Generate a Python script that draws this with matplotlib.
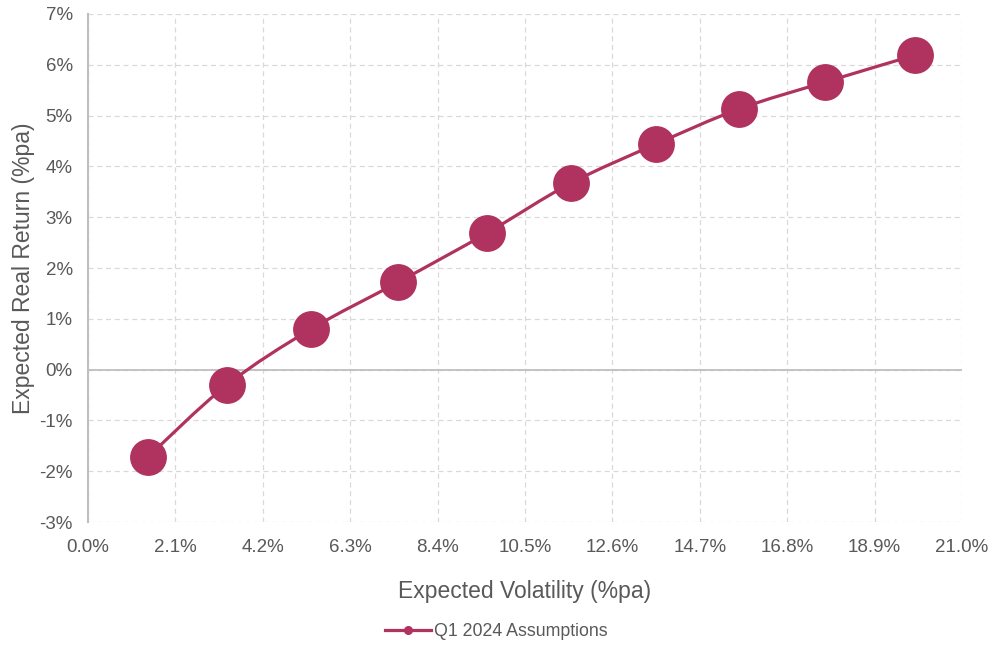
import numpy as np
import matplotlib.pyplot as plt
from matplotlib.path import Path
from matplotlib.patches import PathPatch
from matplotlib.lines import Line2D
from matplotlib.ticker import FuncFormatter

plt.rcParams['font.family'] = ['Liberation Sans', 'DejaVu Sans']

# Efficient frontier points (%pa)
volatility = [1.44, 3.34, 5.36, 7.45, 9.59, 11.60, 13.65, 15.64, 17.71, 19.87]
real_return = [-1.72, -0.30, 0.80, 1.72, 2.69, 3.67, 4.44, 5.13, 5.66, 6.19]
series_name = 'Q1 2024 Assumptions'

colour = '#B0325E'
text_col = '#595959'

fig = plt.figure(figsize=(9.93, 6.48), dpi=100)
ax = fig.add_axes([0.0886, 0.1944, 0.8802, 0.784])

ax.set_xlim(0, 21)
ax.set_ylim(-3, 7)
ax.set_xticks(np.arange(0, 21.01, 2.1))
ax.set_yticks(np.arange(-3, 7.01, 1))
ax.xaxis.set_major_formatter(FuncFormatter(lambda v, p: '{:.1f}%'.format(v)))
ax.yaxis.set_major_formatter(FuncFormatter(lambda v, p: '{:.0f}%'.format(v)))

ax.grid(True, color='#D9D9D9', linestyle=(0, (4, 3)), linewidth=0.9)
ax.set_axisbelow(True)
for s in ['top', 'right', 'bottom']:
    ax.spines[s].set_visible(False)
ax.spines['left'].set_color('#BFBFBF')
ax.spines['left'].set_linewidth(1.5)
ax.axhline(0, color='#BFBFBF', linewidth=1.3, zorder=1)
ax.tick_params(axis='x', length=0, labelsize=13.5, colors=text_col, pad=12)
ax.tick_params(axis='y', length=0, labelsize=13.5, colors=text_col, pad=11)

# smoothed line through the points (Catmull-Rom as cubic Bezier)
pts = np.column_stack([volatility, real_return])
verts = [pts[0]]
codes = [Path.MOVETO]
n = len(pts)
for i in range(n - 1):
    p0 = pts[max(i - 1, 0)]
    p1 = pts[i]
    p2 = pts[i + 1]
    p3 = pts[min(i + 2, n - 1)]
    c1 = p1 + (p2 - p0) / 6
    c2 = p2 - (p3 - p1) / 6
    verts += [c1, c2, p2]
    codes += [Path.CURVE4] * 3
curve = PathPatch(Path(verts, codes), facecolor='none', edgecolor=colour,
                  linewidth=2.3, zorder=3)
ax.add_patch(curve)
ax.plot(volatility, real_return, linestyle='none', marker='o', markersize=25.5,
        color=colour, zorder=4)

ax.set_xlabel('Expected Volatility (%pa)', fontsize=16.5, color=text_col, va='center')
ax.set_ylabel('Expected Real Return (%pa)', fontsize=16.5, color=text_col, va='center')
ax.xaxis.set_label_coords(0.5, -0.136)
ax.yaxis.set_label_coords(-0.074, 0.5)

handle = Line2D([], [], color=colour, linewidth=2.3, marker='o', markersize=5.5)
fig.legend([handle], [series_name], loc='center', bbox_to_anchor=(0.5, 0.025),
           frameon=False, fontsize=12.8, labelcolor=text_col, handlelength=2.6,
           handletextpad=0.15)

fig.savefig('out.png', dpi=100)
